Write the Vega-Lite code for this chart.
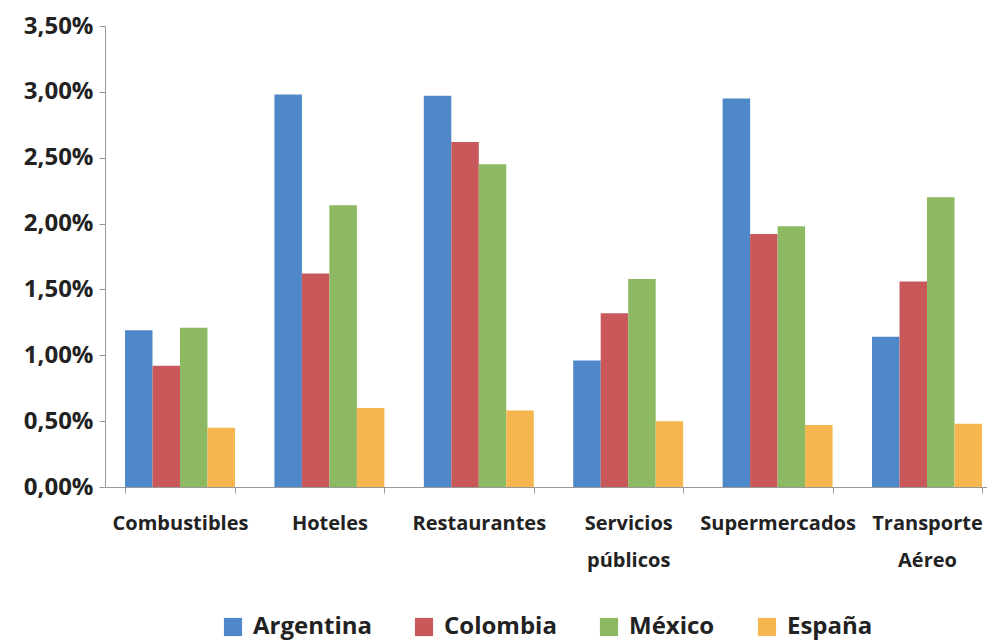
{
  "$schema": "https://vega.github.io/schema/vega-lite/v6.json",
  "autosize": {"type": "none"},
  "padding": {"left": 105, "top": 26, "right": 0, "bottom": 153},
  "width": 897,
  "height": 461,
  "background": "white",
  "data": {
    "values": [
      {"categoria": "Combustibles", "pais": "Argentina", "valor": 0.0119},
      {"categoria": "Combustibles", "pais": "Colombia", "valor": 0.0092},
      {"categoria": "Combustibles", "pais": "México", "valor": 0.0121},
      {"categoria": "Combustibles", "pais": "España", "valor": 0.0045},
      {"categoria": "Hoteles", "pais": "Argentina", "valor": 0.0298},
      {"categoria": "Hoteles", "pais": "Colombia", "valor": 0.0162},
      {"categoria": "Hoteles", "pais": "México", "valor": 0.0214},
      {"categoria": "Hoteles", "pais": "España", "valor": 0.0060},
      {"categoria": "Restaurantes", "pais": "Argentina", "valor": 0.0297},
      {"categoria": "Restaurantes", "pais": "Colombia", "valor": 0.0262},
      {"categoria": "Restaurantes", "pais": "México", "valor": 0.0245},
      {"categoria": "Restaurantes", "pais": "España", "valor": 0.0058},
      {"categoria": "Servicios públicos", "pais": "Argentina", "valor": 0.0096},
      {"categoria": "Servicios públicos", "pais": "Colombia", "valor": 0.0132},
      {"categoria": "Servicios públicos", "pais": "México", "valor": 0.0158},
      {"categoria": "Servicios públicos", "pais": "España", "valor": 0.0050},
      {"categoria": "Supermercados", "pais": "Argentina", "valor": 0.0295},
      {"categoria": "Supermercados", "pais": "Colombia", "valor": 0.0192},
      {"categoria": "Supermercados", "pais": "México", "valor": 0.0198},
      {"categoria": "Supermercados", "pais": "España", "valor": 0.0047},
      {"categoria": "Transporte Aéreo", "pais": "Argentina", "valor": 0.0114},
      {"categoria": "Transporte Aéreo", "pais": "Colombia", "valor": 0.0156},
      {"categoria": "Transporte Aéreo", "pais": "México", "valor": 0.0220},
      {"categoria": "Transporte Aéreo", "pais": "España", "valor": 0.0048}
    ]
  },
  "mark": {"type": "bar"},
  "encoding": {
    "x": {
      "field": "categoria",
      "type": "nominal",
      "sort": null,
      "scale": {"paddingInner": 0.264, "paddingOuter": 0.134},
      "axis": {
        "title": null,
        "labelAngle": 0,
        "labelExpr": "split(datum.label, ' ')",
        "labelFont": "Open Sans",
        "labelFontWeight": "bold",
        "labelFontSize": 20,
        "labelColor": "#222222",
        "labelLineHeight": 37,
        "labelPadding": 30,
        "labelBaseline": "middle",
        "labelOverlap": false,
        "labelBound": false,
        "tickBand": "extent",
        "tickSize": 6,
        "tickColor": "#999999",
        "domainColor": "#999999",
        "grid": false
      }
    },
    "xOffset": {
      "field": "pais",
      "type": "nominal",
      "sort": ["Argentina", "Colombia", "México", "España"],
      "scale": {"paddingInner": 0, "paddingOuter": 0}
    },
    "y": {
      "field": "valor",
      "type": "quantitative",
      "scale": {"domain": [0, 0.035], "nice": false},
      "axis": {
        "title": null,
        "values": [0, 0.005, 0.01, 0.015, 0.02, 0.025, 0.03, 0.035],
        "labelExpr": "replace(format(datum.value, '.2%'), '.', ',')",
        "labelFont": "Open Sans",
        "labelFontWeight": "bold",
        "labelFontSize": 24,
        "labelColor": "#222222",
        "labelPadding": 6,
        "tickSize": 6,
        "tickColor": "#999999",
        "domainColor": "#999999",
        "grid": false
      }
    },
    "color": {
      "field": "pais",
      "type": "nominal",
      "sort": ["Argentina", "Colombia", "México", "España"],
      "scale": {
        "domain": ["Argentina", "Colombia", "México", "España"],
        "range": ["#4F88C8", "#C9585B", "#8DB962", "#F6B64F"]
      },
      "legend": {
        "title": null,
        "orient": "none",
        "direction": "horizontal",
        "legendX": 116,
        "legendY": 589,
        "symbolType": "square",
        "symbolSize": 330,
        "symbolStrokeWidth": 0,
        "labelFont": "Open Sans",
        "labelFontWeight": "bold",
        "labelFontSize": 24,
        "labelColor": "#222222",
        "labelOffset": 8,
        "columnPadding": 40
      }
    }
  },
  "config": {"view": {"stroke": null}}
}
